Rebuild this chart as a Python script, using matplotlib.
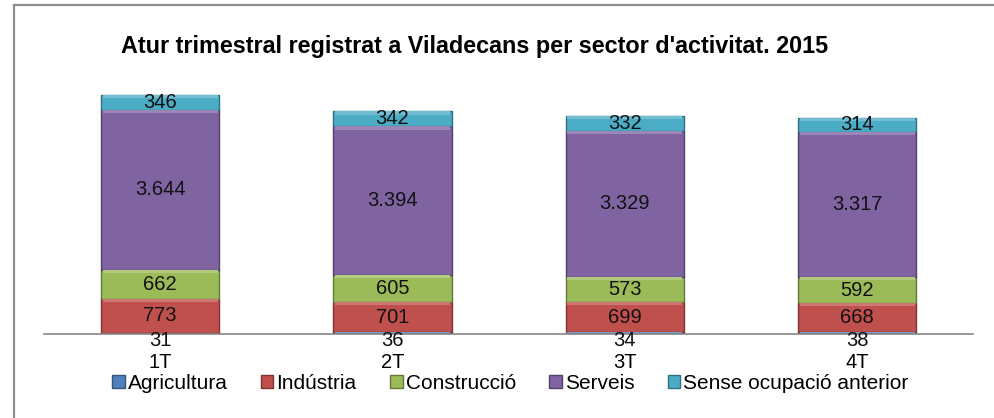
import matplotlib.pyplot as plt
from matplotlib.lines import Line2D
from matplotlib import colors as mcolors
import numpy as np

plt.rcParams['font.family'] = ['Liberation Sans', 'DejaVu Sans']

TITLE = "Atur trimestral registrat a Viladecans per sector d'activitat. 2015"
QUARTERS = ['1T', '2T', '3T', '4T']
SECTORS = ['Agricultura', 'Indústria', 'Construcció', 'Serveis', 'Sense ocupació anterior']

agricultura = [31, 36, 34, 38]
industria = [773, 701, 699, 668]
construccio = [662, 605, 573, 592]
serveis = [3644, 3394, 3329, 3317]
sense_ocupacio = [346, 342, 332, 314]

SERIES = [agricultura, industria, construccio, serveis, sense_ocupacio]
COLORS = ['#4F81BD', '#C0504D', '#9BBB59', '#8064A2', '#4BACC6']


def fmt(v):
    # separador de milers amb punt
    return f'{v:,}'.replace(',', '.')


def shade(color, f):
    r, g, b = mcolors.to_rgb(color)
    if f > 0:
        return (r + (1 - r) * f, g + (1 - g) * f, b + (1 - b) * f)
    return (r * (1 + f), g * (1 + f), b * (1 + f))


fig = plt.figure(figsize=(9.95, 4.18), dpi=100)
ax = fig.add_axes([0.0442, 0.201, 0.934, 0.629])

x = np.arange(len(QUARTERS))
width = 0.51
bottom = np.zeros(len(QUARTERS))
bevel = 70  # alçada de la vora clara superior

for name, vals, col in zip(SECTORS, SERIES, COLORS):
    vals = np.array(vals, dtype=float)
    ax.bar(x, vals, width, bottom=bottom, color=col, edgecolor=shade(col, -0.35),
           linewidth=1.0, label=name, zorder=2)
    band = np.minimum(bevel, vals * 0.3)
    ax.bar(x, band, width * 0.97, bottom=bottom + vals - band, color=shade(col, 0.22),
           linewidth=0, zorder=3)
    for xi, b, v in zip(x, bottom, vals):
        if name == 'Agricultura':
            ax.annotate(fmt(int(v)), (xi, b + v / 2), xytext=(0, -5), textcoords='offset points',
                        ha='center', va='center', fontsize=14.5, color='#111111', zorder=5)
        else:
            ax.text(xi, b + v / 2, fmt(int(v)), ha='center', va='center',
                    fontsize=14.5, color='#111111', zorder=5)
    bottom += vals

ax.set_xlim(-0.5, len(QUARTERS) - 0.5)
ax.set_ylim(0, 6000)
ax.set_xticks(x)
ax.set_xticklabels(QUARTERS, fontsize=14.5)
ax.tick_params(axis='x', length=0, pad=14)
ax.set_yticks([])
for s in ['top', 'right', 'left']:
    ax.spines[s].set_visible(False)
ax.spines['bottom'].set_color('#888888')
ax.spines['bottom'].set_linewidth(1.2)
ax.spines['bottom'].set_zorder(4)

fig.text(0.477, 0.888, TITLE, ha='center', va='center', fontsize=16.8, fontweight='bold')

fig.legend(loc='center', bbox_to_anchor=(0.513, 0.082), ncol=5, frameon=False,
           fontsize=15, handlelength=0.6, handleheight=0.6, handletextpad=0.15,
           columnspacing=1.6)

# marc del gràfic
fig.add_artist(Line2D([0.014, 0.014], [0.0, 0.987], transform=fig.transFigure,
                      color='#8c9090', linewidth=1.6))
fig.add_artist(Line2D([0.014, 1.0], [0.987, 0.987], transform=fig.transFigure,
                      color='#8c9090', linewidth=1.6))

fig.savefig('out.png', dpi=100, facecolor='white')
